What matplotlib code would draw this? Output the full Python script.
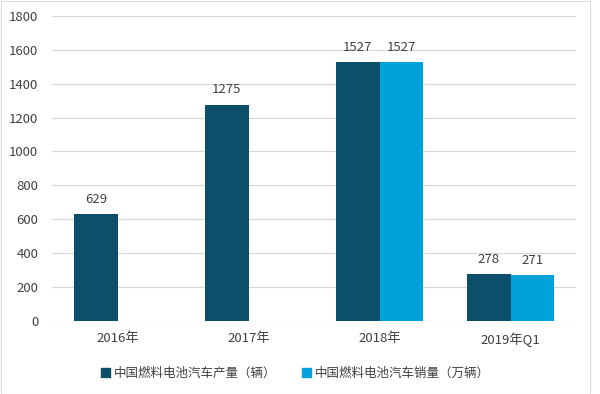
import matplotlib.pyplot as plt
import matplotlib.patches as mpatches
import numpy as np

plt.rcParams['font.family'] = ['Noto Sans CJK SC', 'DejaVu Sans']

# 数据
categories = ["2016年", "2017年", "2018年", "2019年Q1"]
production = [629, 1275, 1527, 278]
sales = [None, None, 1527, 271]
series_names = ["中国燃料电池汽车产量（辆）", "中国燃料电池汽车销量（万辆）"]
y_ticks = [0, 200, 400, 600, 800, 1000, 1200, 1400, 1600, 1800]

DARK = "#0b4f6a"
LIGHT = "#00a2d9"
TEXT = "#404040"

fig = plt.figure(figsize=(6.0, 3.94), dpi=100)
ax = fig.add_axes([0.087, 0.185, 0.873, 0.775])

x = np.arange(len(categories))
w = 0.333

for i, v in enumerate(production):
    ax.bar(x[i] - w / 2, v, width=w, color=DARK, zorder=3)
    ax.annotate(str(v), (x[i] - w / 2, v), xytext=(0, 6), textcoords="offset points",
                ha="center", va="bottom", fontsize=9.5, color=TEXT)
for i, v in enumerate(sales):
    if v is None:
        continue
    ax.bar(x[i] + w / 2, v, width=w, color=LIGHT, zorder=3)
    ax.annotate(str(v), (x[i] + w / 2, v), xytext=(0, 6), textcoords="offset points",
                ha="center", va="bottom", fontsize=9.5, color=TEXT)

ax.set_xlim(-0.5, len(categories) - 0.5)
ax.set_ylim(0, 1800)
ax.set_yticks(y_ticks)
ax.set_xticks(x)
ax.set_xticklabels(categories)
ax.tick_params(axis="both", length=0, labelsize=9.5, colors=TEXT)
ax.tick_params(axis="x", pad=8)
ax.tick_params(axis="y", pad=10)
ax.grid(axis="y", color="#d9d9d9", linewidth=0.9, zorder=0)
ax.set_axisbelow(True)
for s in ax.spines.values():
    s.set_visible(False)

handles = [mpatches.Patch(color=DARK, label=series_names[0]),
           mpatches.Patch(color=LIGHT, label=series_names[1])]
fig.legend(handles=handles, loc="center", bbox_to_anchor=(0.492, 0.053), ncol=2,
           frameon=False, fontsize=9, handlelength=0.7, handleheight=0.7,
           handletextpad=0.3, columnspacing=2.1, labelcolor=TEXT)

# 外框
fig.patches.append(mpatches.Rectangle((0.001, 0.001), 0.982, 0.997, transform=fig.transFigure,
                                      fill=False, edgecolor="#dcdcdc", linewidth=0.8))

fig.savefig("out.png", dpi=100)
